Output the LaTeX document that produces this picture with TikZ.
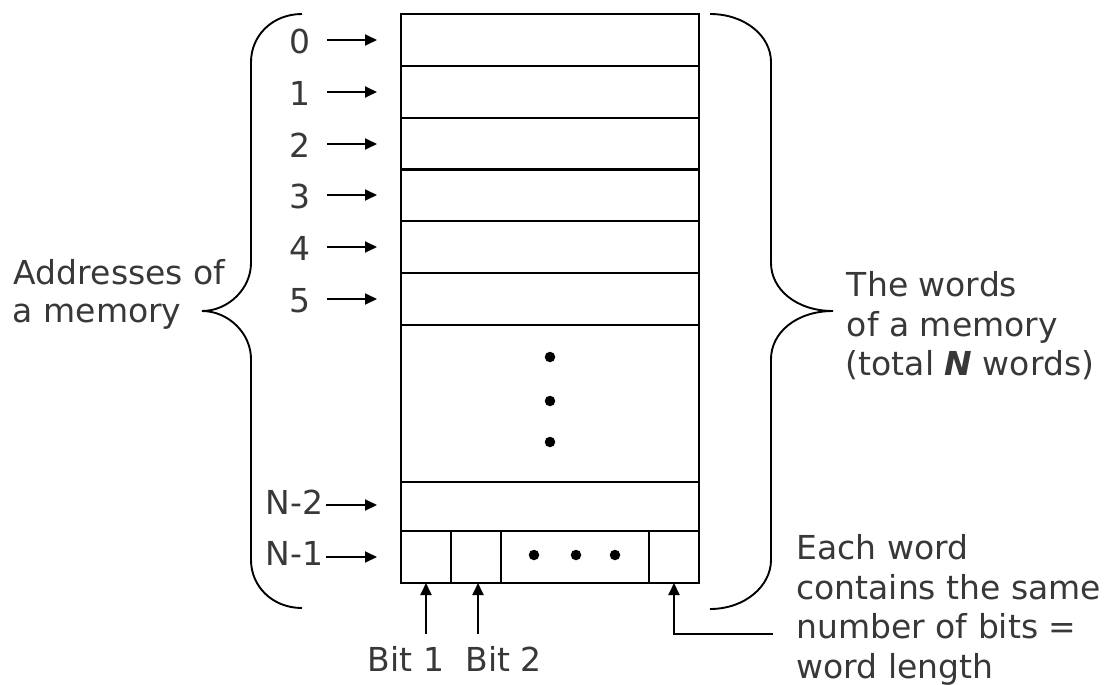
\documentclass[tikz,border=0pt]{standalone}
\usepackage{fontspec}
\setmainfont{DejaVu Sans}
\usetikzlibrary{arrows.meta,calc}
\definecolor{txt}{HTML}{383838}
\begin{document}
\begin{tikzpicture}[x=1pt,y=-1pt,line width=1.9pt,
  cell/.style={draw, minimum width=298pt, inner sep=0pt, outer sep=0pt},
  bitcell/.style={draw, minimum height=52pt, inner sep=0pt, outer sep=0pt},
  txtnode/.style={anchor=base west, inner sep=0pt, text=txt, font=\fontsize{33}{39}\selectfont},
  addrlbl/.style={txtnode, anchor=base},
  nlbl/.style={txtnode, anchor=base east},
  tip/.style={-{Triangle[length=12pt,width=11pt]}},
  dotmark/.style={circle, fill, inner sep=0pt, minimum size=10.5pt}]
\useasboundingbox (0,0) rectangle (1109,685);

% memory words
\foreach \i/\y in {0/40,1/92,2/144,3/195,4/247,5/299}{
  \node[cell, minimum height=51.8pt] (r\i) at (550,\y) {};
}
\node[cell, minimum height=157pt] (rmid) at (550,403.5) {};
\node[cell, minimum height=49pt] (rn2) at (550,506.5) {};
% last word, split into its bits
\node[bitcell, minimum width=50pt] (c1) at (426,557) {};
\node[bitcell, minimum width=50pt] (c2) at (476,557) {};
\node[bitcell, minimum width=148pt] (cdots) at (575,557) {};
\node[bitcell, minimum width=50pt] (cn) at (674,557) {};

% elided words and bits
\node[dotmark] (v1) at (550,357) {};
\node[dotmark] (v2) at (550,401) {};
\node[dotmark] (v3) at (550,442) {};
\node[dotmark] (h1) at (534,555) {};
\node[dotmark] (h2) at (576,555) {};
\node[dotmark] (h3) at (615,555) {};

% addresses
\foreach \i in {0,...,5}{
  \node[addrlbl] (a\i) at ($(r\i.west)+(-101,13.5)$) {\i};
  \draw[tip] ($(r\i.west)+(-74,0)$) -- ($(r\i.west)+(-24,0)$);
}
\node[nlbl] (an2) at ($(rn2.west)+(-77,8)$) {N-2};
\draw[tip] ($(rn2.west)+(-75,-1.5)$) -- ($(rn2.west)+(-24,-1.5)$);
\node[nlbl] (an1) at ($(c1.west)+(-77,8)$) {N-1};
\draw[tip] ($(c1.west)+(-75,0)$) -- ($(c1.west)+(-24,0)$);

% bit pointers
\coordinate (b1) at (426,634);
\coordinate (b2) at (478,634);
\coordinate (wl) at (773,634);
\draw[tip] (b1) -- (c1.south);
\draw[tip] (b2) -- (b2 |- c2.south);
\draw[tip] (wl) -- (cn.south |- wl) -- (cn.south);
\node[txtnode] (bit1) at (367,671.7) {Bit 1};
\node[txtnode] (bit2) at (464.5,671.7) {Bit 2};

% left brace
\draw (302,14) .. controls (272,14) and (251,36) .. (251,62)
  -- (251,263) .. controls (251,289) and (228,311) .. (202,311)
  .. controls (228,311) and (251,333) .. (251,359)
  -- (251,560) .. controls (251,586) and (272,608) .. (302,608);
% right brace
\draw (710,14) .. controls (745,14) and (771,36) .. (771,62)
  -- (771,263) .. controls (771,289) and (796,311) .. (833,311)
  .. controls (796,311) and (771,333) .. (771,359)
  -- (771,560) .. controls (771,586) and (745,609) .. (710,609);

% descriptions
\node[txtnode] (al1) at (13,284.3) {Addresses of};
\node[txtnode] (al2) at (12,322.7) {a memory};
\node[txtnode] (wd1) at (846,296.5) {The words};
\node[txtnode] (wd2) at (846,336.5) {of a memory};
\node[txtnode] (wd3) at (845,375.5) {(total \textbf{\textit{N}} words)};
\node[txtnode] (ew1) at (795.5,559.3) {Each word};
\node[txtnode] (ew2) at (795.5,599.5) {contains the same};
\node[txtnode] (ew3) at (795.5,638.5) {number of bits =};
\node[txtnode] (ew4) at (795.5,678) {word length};
\end{tikzpicture}
\end{document}
